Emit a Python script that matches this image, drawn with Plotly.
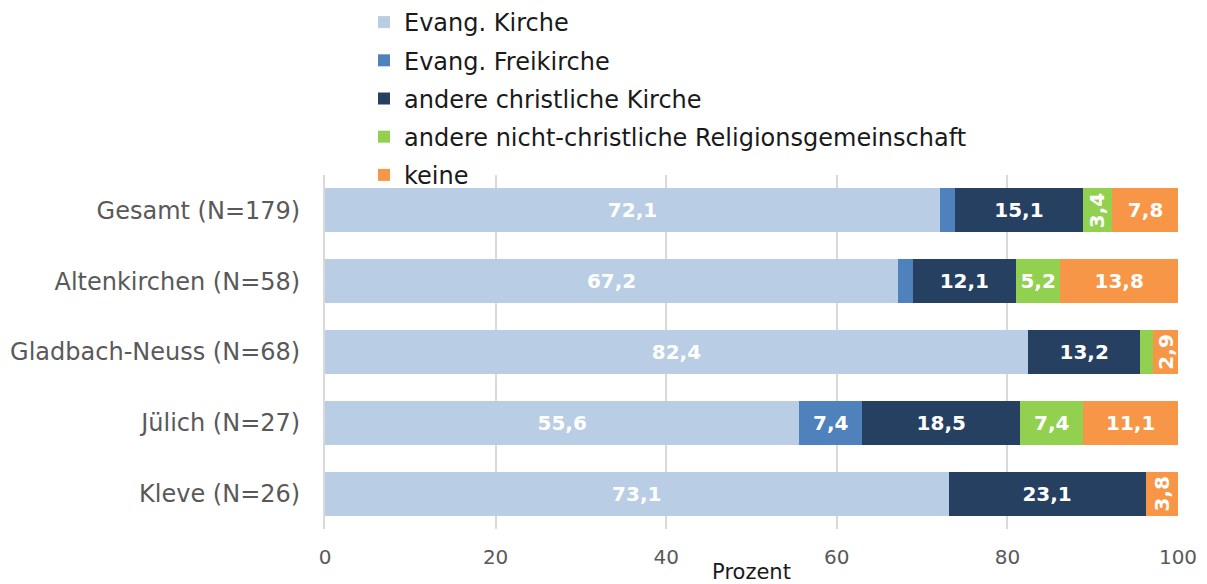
import plotly.graph_objects as go

categories = ["Gesamt (N=179)", "Altenkirchen (N=58)", "Gladbach-Neuss (N=68)", "Jülich (N=27)", "Kleve (N=26)"]
evang_kirche = [72.1, 67.2, 82.4, 55.6, 73.1]
evang_freikirche = [1.7, 1.7, 0.0, 7.4, 0.0]
andere_christlich = [15.1, 12.1, 13.2, 18.5, 23.1]
nicht_christlich = [3.4, 5.2, 1.5, 7.4, 0.0]
keine = [7.8, 13.8, 2.9, 11.1, 3.8]
x_ticks = [0, 20, 40, 60, 80, 100]

series = [
    ("Evang. Kirche", evang_kirche, "#B9CDE5"),
    ("Evang. Freikirche", evang_freikirche, "#4F81BD"),
    ("andere christliche Kirche", andere_christlich, "#254061"),
    ("andere nicht-christliche Religionsgemeinschaft", nicht_christlich, "#92D050"),
    ("keine", keine, "#F79646"),
]

FONT = "DejaVu Sans"
LABEL_FONT = dict(family=FONT, size=20, color="white", weight="bold")

# the page body has an 8px margin, so the figure is drawn 8px in from the window edge
W, H = 1199, 576
ML, MR, MT, MB = 317, 29, 167, 55
PW, PH = W - ML - MR, H - MT - MB

def fmt(v):
    return f"{v:.1f}".replace(".", ",")

fig = go.Figure()
cum = [0.0] * len(categories)
annotations = []
for i, (name, vals, color) in enumerate(series):
    texts = []
    for j, v in enumerate(vals):
        if v >= 4.5:
            texts.append(fmt(v))
        else:
            texts.append("")
            if v >= 2.5:
                annotations.append(dict(
                    x=cum[j] + v / 2, y=categories[j], xref="x", yref="y",
                    text=fmt(v), showarrow=False, textangle=-90,
                    font=LABEL_FONT,
                ))
    fig.add_trace(go.Bar(
        y=categories, x=vals, name=name, orientation="h",
        legendgroup=f"g{i}",
        marker=dict(color=color, line=dict(width=0)),
        text=texts,
        textposition="inside", insidetextanchor="middle",
        textfont=LABEL_FONT,
        hoverinfo="skip",
    ))
    cum = [c + v for c, v in zip(cum, vals)]

fig.update_layout(
    barmode="stack",
    bargap=0.38,
    width=W, height=H,
    margin=dict(l=ML, r=MR, t=MT, b=MB, autoexpand=False),
    paper_bgcolor="white", plot_bgcolor="white",
    font=dict(family=FONT, size=22, color="#595959"),
    annotations=annotations,
    legend=dict(
        orientation="v", xref="paper", yref="paper",
        x=(356 - ML) / PW, xanchor="left",
        y=1 + (MT + 8) / PH, yanchor="top",
        font=dict(family=FONT, size=24, color="#1a1a1a"),
        traceorder="grouped", tracegroupgap=4, bgcolor="rgba(0,0,0,0)",
    ),
    xaxis=dict(
        range=[0, 100], tickvals=x_ticks, ticktext=[str(t) for t in x_ticks],
        showgrid=True, gridcolor="#D9D9D9", gridwidth=2,
        zeroline=False, showline=False, automargin=False,
        ticklabelstandoff=14,
        tickfont=dict(family=FONT, size=20, color="#595959"),
        title=dict(text="Prozent", font=dict(family=FONT, size=21, color="#1a1a1a"), standoff=4),
    ),
    yaxis=dict(
        categoryorder="array", categoryarray=categories, autorange="reversed",
        showline=True, linecolor="#D9D9D9", linewidth=2, automargin=False,
        showgrid=False, ticks="", ticklabelstandoff=18,
        tickfont=dict(family=FONT, size=24, color="#595959"),
    ),
)

fig.write_html("out.html")
